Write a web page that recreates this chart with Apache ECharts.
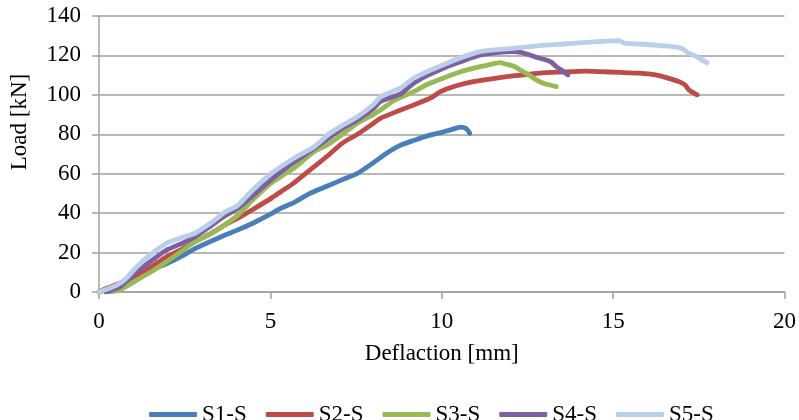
<!DOCTYPE html>
<html>
<head>
<meta charset="utf-8">
<script src="https://cdn.jsdelivr.net/npm/echarts@6/dist/echarts.min.js"></script>
<style>
html,body{margin:0;padding:0;background:#fff;}
#chart{width:799px;height:420px;}
</style>
</head>
<body>
<div id="chart"></div>
<script>
// ---- data ----
const seriesNames = ['S1-S', 'S2-S', 'S3-S', 'S4-S', 'S5-S'];
const xTicks = [0, 5, 10, 15, 20];
const yTicks = [0, 20, 40, 60, 80, 100, 120, 140];

const s1X = [0, 0.5, 1, 1.5, 2, 2.5, 2.8, 3.3, 3.7, 4.05, 4.5, 5.0, 5.31, 5.7, 6.1, 6.28, 6.7, 7.1, 7.54, 8.0, 8.4, 8.8, 9.2, 9.6, 10.0, 10.3, 10.55, 10.7, 10.82];
const s1Y = [0, 2.5, 6.5, 11, 14.6, 19, 22, 26, 29, 31.5, 35, 39.5, 42.5, 45.5, 49.5, 51, 54, 57, 60.2, 65.5, 70.5, 74.5, 77, 79.3, 81, 82.5, 83.6, 83, 80.5];

const s2X = [0, 0.25, 0.6, 1.1, 1.5, 1.97, 2.4, 2.8, 3.3, 3.67, 4.05, 4.5, 5.02, 5.31, 5.7, 6.28, 6.7, 7.1, 7.54, 8.0, 8.21, 8.8, 9.2, 9.67, 9.96, 10.4, 10.92, 11.4, 11.89, 12.4, 12.86, 13.4, 13.82, 14.21, 14.6, 15.2, 15.76, 16.24, 16.6, 16.92, 17.1, 17.21, 17.45];
const s2Y = [0, 2, 4.5, 8.6, 12.5, 17.9, 21.5, 25.5, 30, 34, 37.4, 42, 47.5, 50.9, 55.5, 63.6, 69.5, 75.5, 80, 85.5, 88.1, 92.3, 95, 98.3, 101.6, 104.5, 106.7, 108, 109.2, 110.2, 111, 111.5, 111.8, 112, 111.8, 111.4, 111, 110.1, 108.5, 106.7, 105, 102.5, 100];

const s3X = [0.3, 0.6, 1.1, 1.5, 1.97, 2.4, 2.8, 3.3, 3.67, 4.05, 4.5, 5.0, 5.3, 5.7, 6.28, 6.7, 7.1, 7.54, 8.0, 8.21, 8.6, 9.18, 9.6, 10.15, 10.5, 11.12, 11.4, 11.7, 11.89, 12.1, 12.37, 12.6, 12.76, 12.96, 13.15, 13.34];
const s3Y = [0, 1, 6, 10, 15.4, 20.5, 25.5, 30, 34, 39, 47, 55, 58.5, 63, 71.2, 75, 80, 85.6, 90, 92.3, 97, 101.6, 105.5, 109.2, 111.5, 114.3, 115.3, 116.3, 115.5, 114.5, 111.8, 109.5, 107.6, 105.9, 105, 104.2];

const s4X = [0.2, 0.6, 1.1, 1.5, 1.97, 2.4, 2.8, 3.3, 3.67, 4.05, 4.5, 5.02, 5.31, 5.7, 6.28, 6.7, 7.1, 7.54, 8.0, 8.21, 8.8, 9.18, 9.6, 10.15, 10.5, 11.12, 11.5, 12.08, 12.3, 12.57, 12.8, 13.05, 13.2, 13.34, 13.5, 13.68];
const s4Y = [0, 2.5, 10.3, 15.5, 21.3, 24.5, 28, 34, 38.5, 42.5, 49, 57, 61, 66, 72.9, 78, 83, 87.3, 93, 96.6, 100.5, 105.9, 110, 114.3, 116.5, 120.2, 121.2, 121.9, 121.5, 120.2, 118.8, 117.7, 116.5, 114.3, 112.5, 110.1];

const s5X = [0, 0.52, 0.8, 1.1, 1.49, 1.97, 2.4, 2.8, 3.3, 3.67, 4.05, 4.5, 5.02, 5.31, 5.7, 6.28, 6.7, 7.1, 7.54, 8.0, 8.21, 8.8, 9.18, 9.6, 10.15, 10.5, 11.12, 11.5, 12.08, 12.86, 13.54, 14.31, 15.18, 15.33, 15.76, 16.54, 17.0, 17.21, 17.4, 17.5, 17.74];
const s5Y = [0, 3.5, 7, 12.8, 18.8, 24.7, 27.5, 29.8, 35.5, 40.5, 44, 52, 60, 63.6, 68, 73.7, 80, 84.5, 88.9, 95, 99, 103.5, 108.4, 112, 116, 118.5, 121.9, 122.8, 123.6, 125, 125.8, 126.7, 127.5, 126.2, 125.8, 124.8, 123.6, 121.1, 119.8, 118.6, 116.3];

const colors = ['#4A7EBB', '#BE4B48', '#98B954', '#7D60A0', '#B9CFEA'];

const xs = [s1X, s2X, s3X, s4X, s5X];
const ys = [s1Y, s2Y, s3Y, s4Y, s5Y];

const FONT = "'Times New Roman', 'Liberation Serif', serif";

const chart = echarts.init(document.getElementById('chart'), null, {renderer: 'canvas'});

const series = seriesNames.map((name, i) => ({
  name: name,
  type: 'line',
  data: xs[i].map((x, k) => [x, ys[i][k]]),
  showSymbol: false,
  symbol: 'none',
  smooth: 0.2,
  lineStyle: {color: colors[i], width: 4.8, cap: 'round', join: 'round'},
  itemStyle: {color: colors[i]},
  animation: false
}));

chart.setOption({
  animation: false,
  backgroundColor: '#fff',
  grid: {left: 97, right: 13, top: 16, bottom: 128, containLabel: false},
  xAxis: {
    type: 'value',
    min: xTicks[0],
    max: xTicks[xTicks.length - 1],
    interval: 5,
    name: 'Deflaction [mm]',
    nameLocation: 'middle',
    nameGap: 50,
    nameTextStyle: {fontFamily: FONT, fontSize: 23, color: '#000'},
    axisLine: {show: true, lineStyle: {color: '#A0A0A0', width: 1.5}},
    axisTick: {show: true, length: 7, inside: false, lineStyle: {color: '#A0A0A0', width: 1.5}},
    axisLabel: {fontFamily: FONT, fontSize: 23, color: '#000', margin: 18},
    splitLine: {show: false}
  },
  yAxis: {
    type: 'value',
    min: yTicks[0],
    max: yTicks[yTicks.length - 1],
    interval: 20,
    name: 'Load [kN]',
    nameLocation: 'middle',
    nameGap: 68,
    nameTextStyle: {fontFamily: FONT, fontSize: 23, color: '#000', padding: [0, 0, 0, 64]},
    axisLine: {show: true, lineStyle: {color: '#A0A0A0', width: 1.5}},
    axisTick: {show: true, length: 7, inside: false, lineStyle: {color: '#A0A0A0', width: 1.5}},
    axisLabel: {fontFamily: FONT, fontSize: 23, color: '#000', margin: 18},
    splitLine: {show: true, lineStyle: {color: '#A0A0A0', width: 1.5}}
  },
  legend: {
    data: seriesNames,
    left: 144,
    top: 398,
    icon: 'roundRect',
    itemWidth: 48,
    itemHeight: 5,
    itemGap: 19,
    textStyle: {fontFamily: FONT, fontSize: 23, color: '#000'}
  },
  series: series
});
</script>
</body>
</html>
